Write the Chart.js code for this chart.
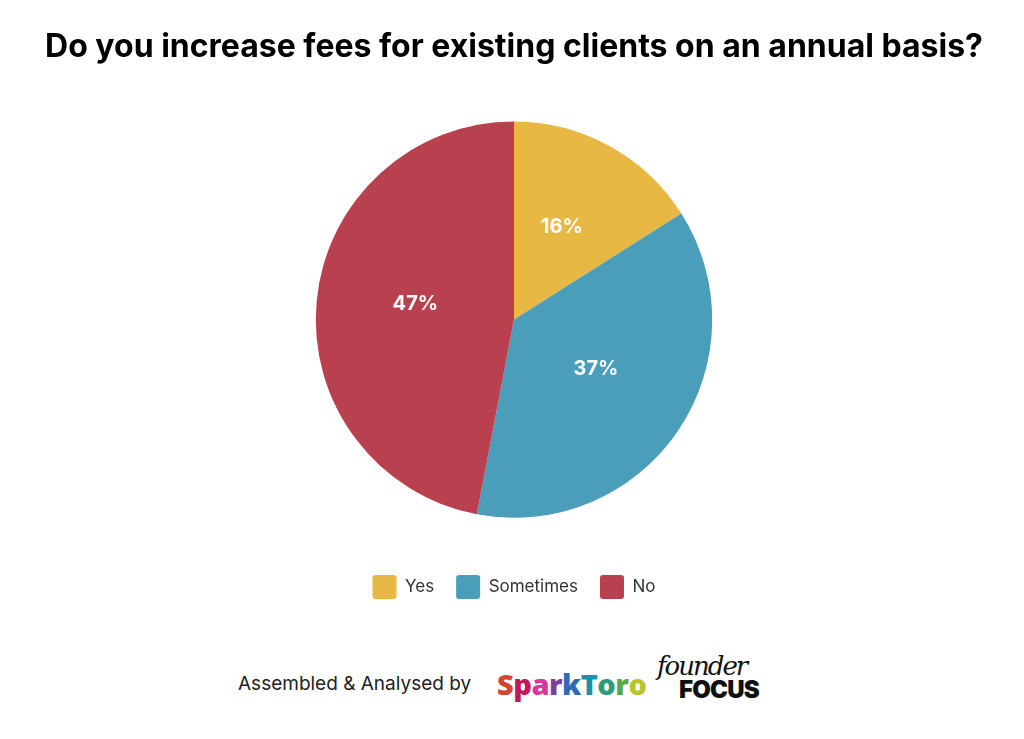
<!DOCTYPE html>
<html>
<head>
<meta charset="utf-8">
<script src="https://cdn.jsdelivr.net/npm/chart.js@4/dist/chart.umd.min.js"></script>
<style>
  body { margin: 0; background: #fff; font-family: Inter, "Noto Sans", sans-serif; }
  #wrap { position: relative; width: 1024px; height: 609px; }
  #footer { position: absolute; top: 655px; left: 0; width: 1024px; height: 60px; }
  #credit { position: absolute; left: 238px; top: 17px; font-size: 19px; color: #222; }
  #spark { position: absolute; left: 497px; top: 9px; font-family: "Open Sans", sans-serif; font-weight: 800; font-size: 29px; letter-spacing: -0.5px; }
  #founder { position: absolute; left: 657px; top: -2px; width: 104px; }
  #founder .f1 { font-family: "DejaVu Serif", serif; font-style: italic; font-size: 26px; color: #111; letter-spacing: -2px; line-height: 26px; }
  #founder .f2 { font-family: Inter, sans-serif; font-weight: 900; font-size: 24px; color: #111; line-height: 22px; margin-left: 22px; letter-spacing: -0.8px; }
</style>
</head>
<body>
<div id="wrap"><canvas id="pieChart"></canvas></div>
<div id="footer">
  <div id="credit">Assembled &amp; Analysed by</div>
  <div id="spark"><span style="color:#d2452e">S</span><span style="color:#c2185b">p</span><span style="color:#d6399a">a</span><span style="color:#7b3fa0">r</span><span style="color:#2e6db4">k</span><span style="color:#1f8fae">T</span><span style="color:#2e9b7a">o</span><span style="color:#5aa845">r</span><span style="color:#b7c62a">o</span></div>
  <div id="founder"><div class="f1">founder</div><div class="f2">FOCUS</div></div>
</div>
<script>
// Dados do gráfico
const categories = ['Yes', 'Sometimes', 'No'];
const shares = [16, 37, 47];
const sliceColors = ['#E8B845', '#4B9EB9', '#B9404F'];
const chartTitle = 'Do you increase fees for existing clients on an annual basis?';

// Plugin para escrever as percentagens dentro das fatias
const sliceLabels = {
    id: 'sliceLabels',
    afterDatasetsDraw(chart) {
        const ctx = chart.ctx;
        const meta = chart.getDatasetMeta(0);
        ctx.save();
        ctx.fillStyle = '#fff';
        ctx.font = 'bold 20px Inter, sans-serif';
        ctx.textAlign = 'center';
        ctx.textBaseline = 'middle';
        meta.data.forEach((arc, i) => {
            const pos = arc.tooltipPosition();
            ctx.fillText(shares[i] + '%', pos.x, pos.y - 6);
        });
        ctx.restore();
    }
};

Chart.defaults.font.family = 'Inter, "Noto Sans", sans-serif';

const ctx = document.getElementById('pieChart').getContext('2d');
new Chart(ctx, {
    type: 'pie',
    data: {
        labels: categories,
        datasets: [{
            data: shares,
            backgroundColor: sliceColors,
            borderWidth: 0,
            offset: 0,
            hoverOffset: 0
        }]
    },
    options: {
        responsive: true,
        maintainAspectRatio: false,
        animation: false,
        layout: { padding: { left: 4, bottom: 0 } },
        plugins: {
            title: {
                display: true,
                text: chartTitle,
                color: '#000',
                font: { size: 32, weight: 'bold' },
                padding: { top: 28, bottom: 55 }
            },
            legend: {
                position: 'bottom',
                // título vazio só para dar espaço entre a pizza e a legenda
                title: { display: true, text: '', font: { size: 1 }, padding: { top: 34, bottom: 0 } },
                labels: {
                    boxWidth: 24,
                    boxHeight: 24,
                    padding: 22,
                    color: '#333',
                    font: { size: 17 },
                    useBorderRadius: true,
                    borderRadius: 3
                }
            },
            tooltip: { enabled: false }
        }
    },
    plugins: [sliceLabels]
});
</script>
</body>
</html>
